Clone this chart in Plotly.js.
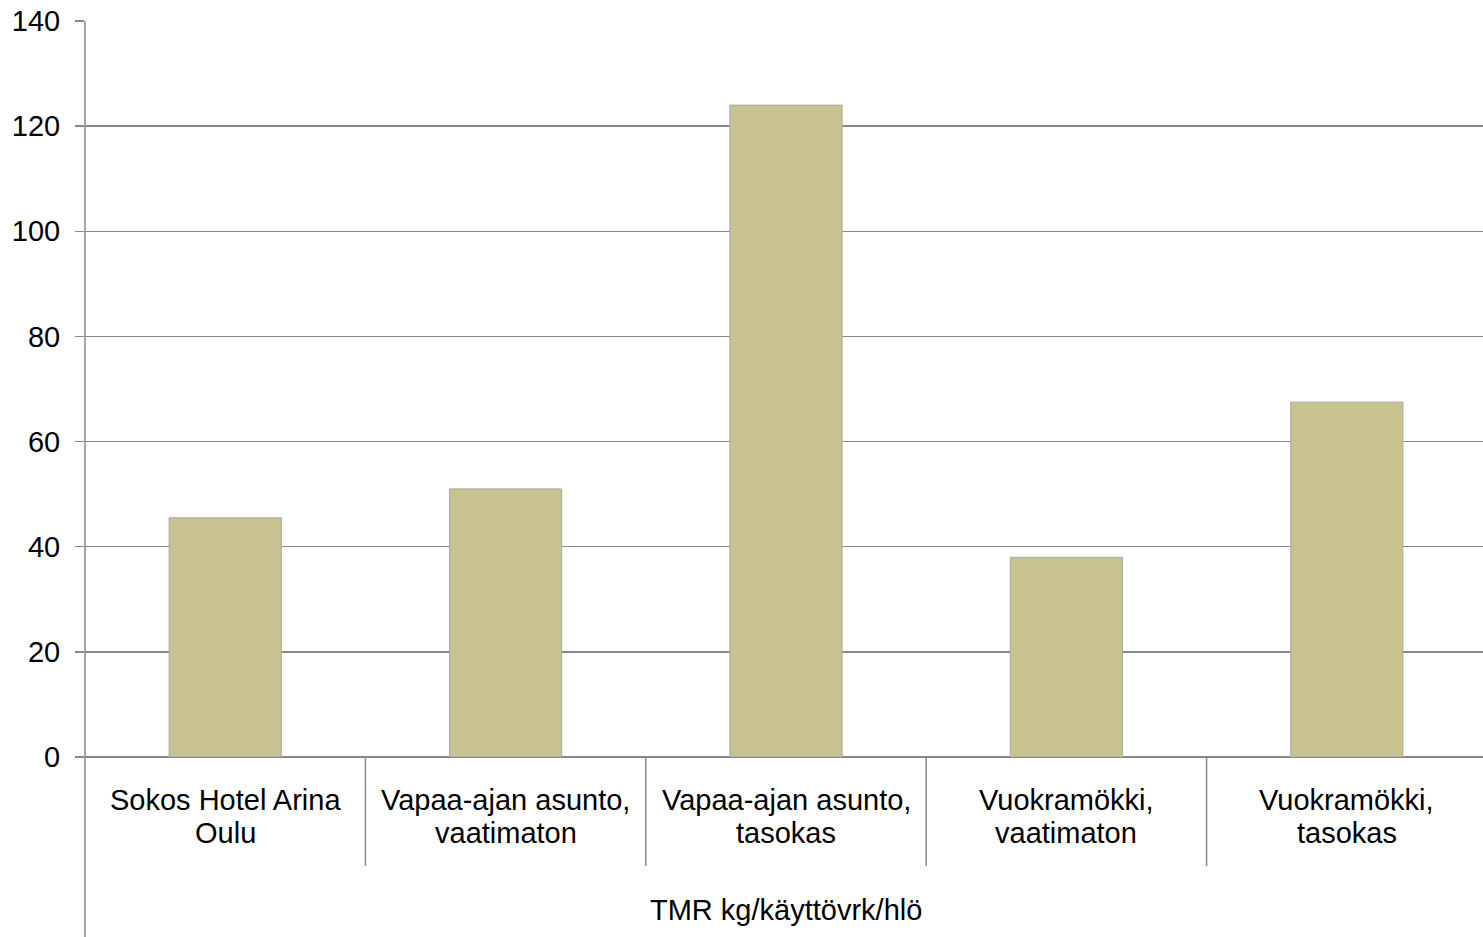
<!DOCTYPE html>
<html>
<head>
<meta charset="utf-8">
<script src="https://cdn.plot.ly/plotly-3.0.1.min.js"></script>
<style>
html,body{margin:0;padding:0;overflow:hidden;background:#fff;}
#chart{width:1487px;height:937px;}
</style>
</head>
<body>
<div id="chart"></div>
<script>
const categories = [
  "Sokos Hotel Arina<br>Oulu",
  "Vapaa-ajan asunto,<br>vaatimaton",
  "Vapaa-ajan asunto,<br>tasokas",
  "Vuokramökki,<br>vaatimaton",
  "Vuokramökki,<br>tasokas"
];
const values = [45.5, 51, 124, 38, 67.5];
const groupLabel = "TMR kg/käyttövrk/hlö";
const yTicks = [0, 20, 40, 60, 80, 100, 120, 140];

const FONT = "Liberation Sans, Arial, sans-serif";
const GRID = "#888888";
const W = 1487, H = 937, L = 85, R = 0, T = 21, B = 180;
const plotH = H - T - B;
const px = v => -v / plotH; // pixels below plot bottom -> paper y

const idx = categories.map((c, i) => i);

const shapes = [];
// category dividers
for (let i = 1; i <= categories.length; i++) {
  shapes.push({type: 'line', xref: 'x', yref: 'paper', x0: i - 0.5, x1: i - 0.5,
    y0: 0, y1: px(109), line: {color: GRID, width: 1.5}});
}
// y axis line extending to bottom
shapes.push({type: 'line', xref: 'paper', yref: 'paper', x0: 0, x1: 0,
  y0: 1, y1: px(B), line: {color: GRID, width: 1.5}});

const annotations = [];
categories.forEach((c, i) => {
  c.split('<br>').forEach((line, j) => {
    annotations.push({x: i, xref: 'x', yref: 'paper', y: px(43 + 33 * j),
      text: line, showarrow: false, xanchor: 'center', yanchor: 'middle',
      font: {family: FONT, size: 29, color: '#000'}});
  });
});
annotations.push({x: (categories.length - 1) / 2, xref: 'x', yref: 'paper', y: px(153),
  text: groupLabel, showarrow: false, xanchor: 'center', yanchor: 'middle',
  font: {family: FONT, size: 29, color: '#000'}});

const data = [{
  type: 'bar', x: idx, y: values, width: 0.4,
  marker: {color: '#c8c190', line: {color: '#a8a8a0', width: 1}},
  hoverinfo: 'skip'
}];

const layout = {
  width: W, height: H,
  margin: {l: L, r: R, t: T, b: B, pad: 0},
  paper_bgcolor: '#fff', plot_bgcolor: '#fff',
  showlegend: false,
  font: {family: FONT, size: 29, color: '#000'},
  xaxis: {range: [-0.5, categories.length - 0.5], showticklabels: false, showgrid: false,
    zeroline: false, showline: false, ticks: '', fixedrange: true},
  yaxis: {range: [0, 140], tickvals: yTicks, ticktext: yTicks.map(String),
    showgrid: true, gridcolor: GRID, gridwidth: 1.5, zeroline: true, zerolinecolor: GRID, zerolinewidth: 1.5,
    showline: false, ticks: 'outside', ticklen: 9, tickcolor: GRID, tickwidth: 1.5,
    ticklabelstandoff: 9,
    tickfont: {family: FONT, size: 29, color: '#000'}, fixedrange: true},
  shapes: shapes,
  annotations: annotations
};

Plotly.newPlot('chart', data, layout, {displayModeBar: false, staticPlot: true});
</script>
</body>
</html>
